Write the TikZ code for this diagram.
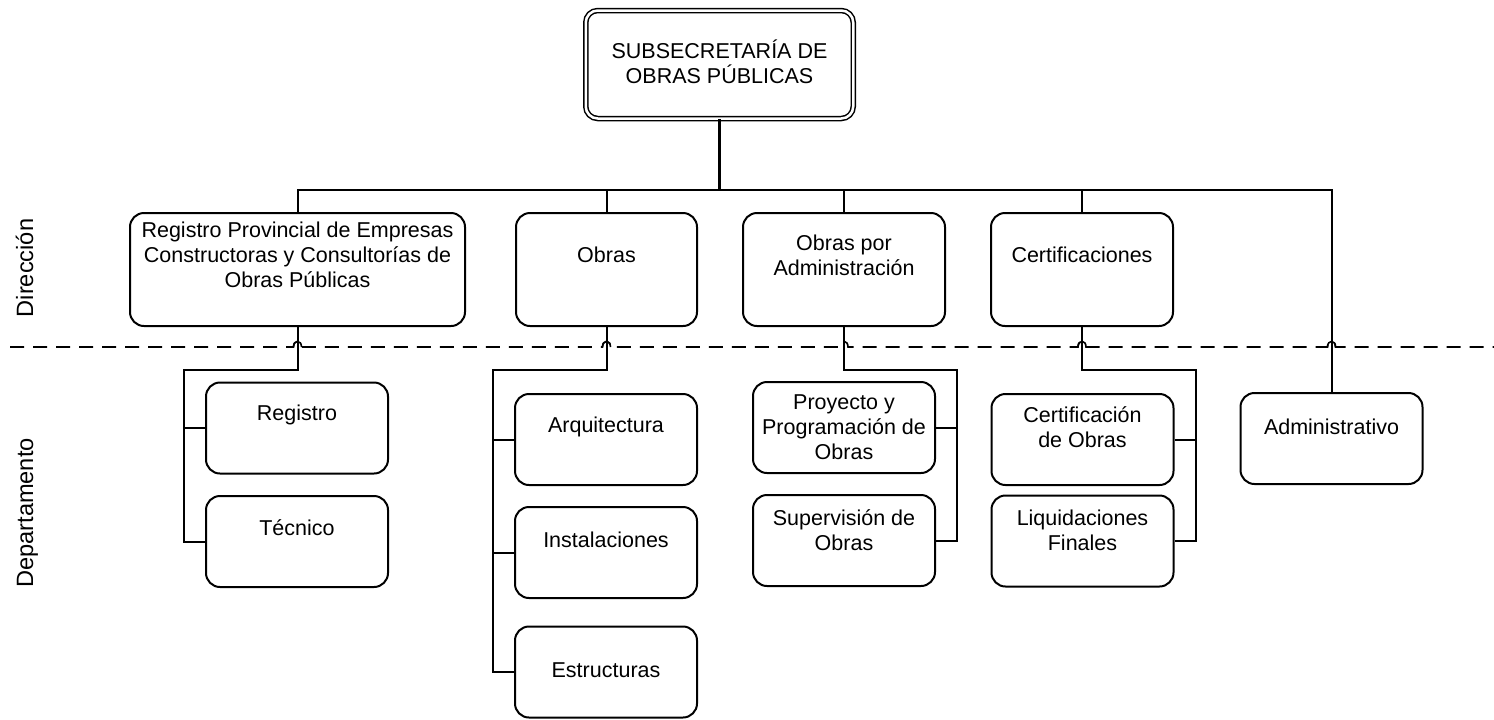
\documentclass[tikz,border=0pt]{standalone}
\usepackage{fontspec}
\setmainfont{Liberation Sans}
\begin{document}
\begin{tikzpicture}[x=0.5pt,y=-0.5pt,
  box/.style={draw, line width=1pt, rounded corners=7pt, inner sep=0pt},
  dirbox/.style={box, minimum height=56.5pt},
  depbox/.style={box, minimum width=91pt, minimum height=45.5pt},
  txt/.style={align=center, inner sep=0pt, font=\fontsize{10.75}{12.5}\selectfont},
  conn/.style={line width=1pt},
  sep/.style={line width=0.8pt, dash pattern=on 7pt off 4.5pt},
  hop/.style={line width=0.8pt},
  side/.style={rotate=90, anchor=base, inner sep=0pt, font=\fontsize{11.8}{14}\selectfont}]
\useasboundingbox (0,0) rectangle (1494,719);

% top
\node[draw, double, line width=0.75pt, double distance=1.25pt, rounded corners=6pt,
      minimum width=133.75pt, minimum height=54pt, inner sep=0pt] (top) at (719.5,64.5) {};
\node[txt] (toptxt) at (719.5,62) {SUBSECRETARÍA DE\\OBRAS PÚBLICAS};

% direcciones
\node[dirbox, minimum width=167.5pt] (reg) at (297.5,269.5) {};
\node[txt] (regtxt) at (297.5,255) {Registro Provincial de Empresas\\Constructoras y Consultorías de\\Obras Públicas};
\node[dirbox, minimum width=90.5pt] (obras) at (606.5,269.5) {};
\node[txt] (obrastxt) at (606.5,255) {Obras};
\node[dirbox, minimum width=101pt] (opa) at (844,269.5) {};
\node[txt] (opatxt) at (844,255) {Obras por\\Administración};
\node[dirbox, minimum width=91pt] (cert) at (1082,269.5) {};
\node[txt] (certtxt) at (1082,255) {Certificaciones};

% departamentos
\node[depbox] (regi) at (297,428) {};
\node[txt] (regitxt) at (297,415) {Registro};
\node[depbox] (tec) at (297,541.5) {};
\node[txt] (tectxt) at (297,528) {Técnico};

\node[depbox] (arq) at (606,439.5) {};
\node[txt] (arqtxt) at (606,427) {Arquitectura};
\node[depbox] (ins) at (606,552.5) {};
\node[txt] (instxt) at (606,540) {Instalaciones};
\node[depbox] (est) at (606,672) {};
\node[txt] (esttxt) at (606,670) {Estructuras};

\node[depbox] (proy) at (844,427.5) {};
\node[txt] (proytxt) at (844,427) {Proyecto y\\Programación de\\Obras};
\node[depbox] (sup) at (844,540.5) {};
\node[txt] (suptxt) at (844,530) {Supervisión de\\Obras};

\node[depbox] (certo) at (1082.5,439.5) {};
\node[txt] (certotxt) at (1082.5,427) {Certificación\\de Obras};
\node[depbox] (liq) at (1082.5,541) {};
\node[txt] (liqtxt) at (1082.5,530) {Liquidaciones\\Finales};

\node[depbox] (adm) at (1331.5,438.5) {};
\node[txt] (admtxt) at (1331.5,427) {Administrativo};

% side labels
\node[side] (ldir) at (33,268) {Dirección};
\node[side] (ldep) at (33,513) {Departamento};

% connectors top level
\coordinate (bar) at (719.5,190);
\draw[conn, line width=1.4pt] (top.south) -- (bar);
\draw[conn] (reg.north) |- (bar) -| (adm.north);
\draw[conn] (obras.north) -- (obras.north |- bar);
\draw[conn] (opa.north) -- (opa.north |- bar);
\draw[conn] (cert.north) -- (cert.north |- bar);

% group connectors
\coordinate (r1) at (184,370);
\draw[conn] (reg.south) |- (r1) |- (tec.west);
\draw[conn] (r1 |- regi.west) -- (regi.west);

\coordinate (o1) at (493,370);
\draw[conn] (obras.south) |- (o1) |- (est.west);
\draw[conn] (o1 |- arq.west) -- (arq.west);
\draw[conn] (o1 |- ins.west) -- (ins.west);

\coordinate (p1) at (957,370);
\draw[conn] (opa.south) |- (p1) |- (sup.east);
\draw[conn] (p1 |- proy.east) -- (proy.east);

\coordinate (c1) at (1196,370);
\draw[conn] (cert.south) |- (c1) |- (liq.east);
\draw[conn] (c1 |- certo.east) -- (certo.east);

% dashed separator with line jumps
\draw[sep] (10,347) -- (293.5,347) .. controls (293.5,339.5) and (301.5,339.5) .. (301.5,347)
  -- (602.5,347) .. controls (602.5,339.5) and (610.5,339.5) .. (610.5,347)
  -- (840,347) .. controls (840,339.5) and (848,339.5) .. (848,347)
  -- (1078,347) .. controls (1078,339.5) and (1086,339.5) .. (1086,347)
  -- (1327.5,347) .. controls (1327.5,339.5) and (1335.5,339.5) .. (1335.5,347)
  -- (1494,347);
\draw[hop] (293.5,347) .. controls (293.5,339.5) and (301.5,339.5) .. (301.5,347);
\draw[hop] (602.5,347) .. controls (602.5,339.5) and (610.5,339.5) .. (610.5,347);
\draw[hop] (1078,347) .. controls (1078,339.5) and (1086,339.5) .. (1086,347);
\draw[hop] (1327.5,347) .. controls (1327.5,339.5) and (1335.5,339.5) .. (1335.5,347);
\end{tikzpicture}
\end{document}
